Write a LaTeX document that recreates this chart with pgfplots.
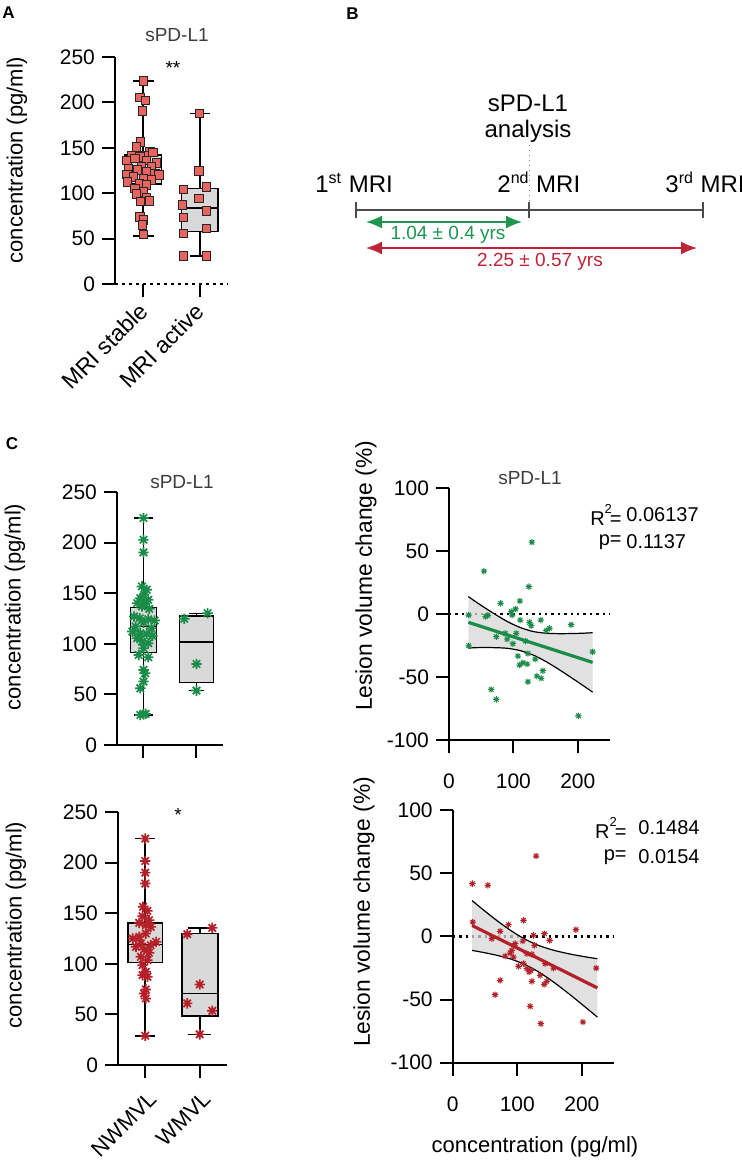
\documentclass[border=0pt]{standalone}
\usepackage{fontspec}
\setmainfont{Liberation Sans}
\usepackage{pgfplots}
\pgfplotsset{compat=1.18}
\usetikzlibrary{arrows.meta}

\definecolor{sqfill}{RGB}{232,100,95}
\definecolor{mygreen}{RGB}{26,140,72}
\definecolor{myred}{RGB}{180,32,40}
\definecolor{boxgray}{RGB}{217,217,217}
\definecolor{bandgray}{RGB}{215,215,215}
\definecolor{titlegray}{RGB}{60,60,60}
\definecolor{linegray}{RGB}{75,75,75}
\definecolor{arrgreen}{RGB}{30,150,80}
\definecolor{arrred}{RGB}{190,35,55}

\newcommand\tickfont{\fontsize{10.5}{12}\selectfont}
\newcommand\labfont{\fontsize{11}{13}\selectfont}
\newcommand\lesfont{\fontsize{11.4}{13}\selectfont}
\newcommand\xlabfont{\fontsize{11.5}{13}\selectfont}
\newcommand\titfont{\fontsize{9.5}{11}\selectfont}
\newcommand\bfont{\fontsize{12}{14}\selectfont}
\newcommand\statfont{\fontsize{10}{12}\selectfont}
\newcommand\letfont{\fontsize{8.5}{10}\selectfont\bfseries}

\pgfdeclareplotmark{star8}{%
  \pgfpathmoveto{\pgfqpoint{0pt}{\pgfplotmarksize}}\pgfpathlineto{\pgfqpoint{0pt}{-\pgfplotmarksize}}%
  \pgfpathmoveto{\pgfqpoint{\pgfplotmarksize}{0pt}}\pgfpathlineto{\pgfqpoint{-\pgfplotmarksize}{0pt}}%
  \pgfpathmoveto{\pgfqpoint{0.707\pgfplotmarksize}{0.707\pgfplotmarksize}}\pgfpathlineto{\pgfqpoint{-0.707\pgfplotmarksize}{-0.707\pgfplotmarksize}}%
  \pgfpathmoveto{\pgfqpoint{0.707\pgfplotmarksize}{-0.707\pgfplotmarksize}}\pgfpathlineto{\pgfqpoint{-0.707\pgfplotmarksize}{0.707\pgfplotmarksize}}%
  \pgfusepathqstroke}

\pgfplotsset{
  myax/.style={scale only axis, axis lines=left, axis line style={-, line width=1pt},
    tick style={line width=1pt, black}, tick align=outside, major tick length=6.5pt,
    ticklabel style={font=\tickfont}, clip=false, anchor=south west},
  boxax/.style={myax, xmin=-0.5, xmax=1.5, ymin=0, ymax=250,
    ytick={0,50,100,150,200,250}, yticklabels={0,50,100,150,200,250}, xtick={0,1}},
  scatax/.style={myax, xmin=0, xmax=250, ymin=-100, ymax=100,
    xtick={0,100,200}, xticklabels={0,100,200},
    ytick={-100,-50,0,50,100}, yticklabels={-100,-50,0,50,100},
    xticklabel style={yshift=-7pt}},
  bxl/.style={black, line width=0.8pt, line join=miter},
  bxf/.style={draw=black, fill=boxgray, line width=0.8pt, line join=miter},
}

\begin{document}
\begin{tikzpicture}
\useasboundingbox (0,0) rectangle (371pt,-582pt);

% ---------------- Panel A ----------------
\node[font=\letfont] at (4.25pt,-6.5pt) {A};
\begin{axis}[boxax, at={(57.5pt,-142pt)}, width=56.5pt, height=113.5pt,
  x axis line style={line width=1.3pt, dash pattern=on 1.3pt off 2.2pt},
  xticklabels={MRI stable, MRI active},
  xticklabel style={rotate=45, anchor=north east, font=\xlabfont, yshift=4pt}]
% MRI stable box
\addplot[bxl] coordinates {(0,142) (0,223.6)};
\addplot[bxl] coordinates {(-0.19,223.6) (0.19,223.6)};
\addplot[bxl] coordinates {(0,110) (0,53)};
\addplot[bxl] coordinates {(-0.19,53) (0.19,53)};
\addplot[bxf] coordinates {(-0.32,110) (0.32,110) (0.32,142) (-0.32,142) (-0.32,110)} -- cycle;
\addplot[bxl] coordinates {(-0.32,124) (0.32,124)};
% MRI active box
\addplot[bxl] coordinates {(1,105) (1,187.7)};
\addplot[bxl] coordinates {(0.825,187.7) (1.175,187.7)};
\addplot[bxl] coordinates {(1,58) (1,30.8)};
\addplot[bxl] coordinates {(0.825,30.8) (1.175,30.8)};
\addplot[bxf] coordinates {(0.68,58) (1.32,58) (1.32,105) (0.68,105) (0.68,58)} -- cycle;
\addplot[bxl] coordinates {(0.68,83.5) (1.32,83.5)};
\addplot[only marks, mark=square*, mark size=2.1pt, mark options={fill=sqfill, draw=black!85, line width=0.45pt}] coordinates {
(0,223.6) (-0.058,205.3) (0.041,202.4) (-0.012,190.6) (-0.047,156.5) (-0.117,151) (0.117,145.5)
(-0.205,141.9) (0.029,141.9) (0.175,144.8) (-0.058,140) (-0.292,136.4) (-0.146,138.2) (0.058,136.4)
(0.234,133.4) (0.146,129.8) (-0.029,129) (-0.263,127.2) (-0.105,125.4) (0.058,123.5) (-0.292,120.6)
(0.205,121.7) (0.281,119.9) (-0.175,118) (0,116.2) (0.146,114.4) (-0.275,112.5) (-0.070,110.7)
(0.058,108.9) (-0.146,105.2) (0,101.6) (-0.117,99) (0.058,95.3) (-0.047,90.6) (0.105,91.3)
(-0.058,74) (0,70.4) (-0.012,64.9) (0,54.6)
(1,187.7) (0.988,124.6) (1.117,107) (0.708,104) (0.988,94.2) (0.696,86.9) (1.117,80.3)
(0.708,73.3) (1.117,61.2) (0.708,55.7) (0.708,30.8) (1.117,30.8)};
\end{axis}
\node[font=\titfont, text=titlegray] at (88.5pt,-17.5pt) {sPD-L1};
\node[font=\titfont] at (86.5pt,-34pt) {**};
\node[font=\labfont, rotate=90] at (8.5pt,-80pt) {concentration (pg/ml)};

% ---------------- Panel B ----------------
\node[font=\letfont] at (176.25pt,-7pt) {B};
\draw[linegray, line width=1pt] (178pt,-105pt) -- (351.5pt,-105pt);
\foreach \xx in {178,264.5,351.5} {\draw[linegray, line width=1.1pt] (\xx pt,-101pt) -- (\xx pt,-109pt);}
\draw[gray, dotted, line width=0.5pt] (264.5pt,-72.5pt) -- (264.5pt,-101pt);
\node[font=\bfont, align=center] at (264pt,-59.5pt) {sPD-L1\\[-1pt]analysis};
\node[font=\bfont, anchor=base west, inner sep=0pt] at (157.5pt,-96pt) {1\textsuperscript{st} MRI};
\node[font=\bfont, anchor=base west, inner sep=0pt] at (248.5pt,-96pt) {2\textsuperscript{nd} MRI};
\node[font=\bfont, anchor=base west, inner sep=0pt] at (332.5pt,-96pt) {3\textsuperscript{rd} MRI};
\draw[arrgreen, line width=0.8pt, {Latex[length=8pt,width=6.5pt]}-{Latex[length=8pt,width=6.5pt]}] (183pt,-111pt) -- (261pt,-111pt);
\draw[arrred, line width=0.8pt, {Latex[length=8pt,width=6.5pt]}-{Latex[length=8pt,width=6.5pt]}] (183pt,-124pt) -- (348.5pt,-124pt);
\node[font=\titfont, text=arrgreen] at (224pt,-117.5pt) {1.04 ± 0.4 yrs};
\node[font=\titfont, text=arrred] at (270pt,-131pt) {2.25 ± 0.57 yrs};

% ---------------- Panel C ----------------
\node[font=\letfont] at (6pt,-222pt) {C};

% C top-left
\begin{axis}[boxax, at={(58.5pt,-372.5pt)}, width=53pt, height=126.5pt, xticklabels={,}]
\addplot[bxl] coordinates {(0,135.9) (0,224.3)};
\addplot[bxl] coordinates {(-0.18,224.3) (0.18,224.3)};
\addplot[bxl] coordinates {(0,91.4) (0,29.7)};
\addplot[bxl] coordinates {(-0.18,29.7) (0.18,29.7)};
\addplot[bxf] coordinates {(-0.245,91.4) (0.245,91.4) (0.245,135.9) (-0.245,135.9) (-0.245,91.4)} -- cycle;
\addplot[bxl] coordinates {(-0.245,117) (0.245,117)};
\addplot[bxl] coordinates {(1,127.5) (1,130)};
\addplot[bxl] coordinates {(0.85,130) (1.15,130)};
\addplot[bxl] coordinates {(1,61.7) (1,53.8)};
\addplot[bxl] coordinates {(0.85,53.8) (1.15,53.8)};
\addplot[bxf] coordinates {(0.68,61.7) (1.32,61.7) (1.32,127.5) (0.68,127.5) (0.68,61.7)} -- cycle;
\addplot[bxl] coordinates {(0.68,102) (1.32,102)};
\addplot[only marks, mark=star8, mark size=2.6pt, mygreen, line width=0.85pt] coordinates {
(0,224.3) (0,202.8) (0,190.3) (-0.03,156.7) (0.06,153.4) (0.01,148.4) (-0.06,145.1) (0.09,143.5)
(-0.12,140.2) (0.03,139.5) (-0.03,136.9) (0.11,134.6) (-0.18,127) (-0.07,125.3) (0.09,124.3)
(0.21,123) (0,121) (-0.15,117.1) (0.15,115.4) (-0.21,112.1) (-0.06,110.5) (0.06,109.8)
(-0.12,105.5) (0.17,107.8) (-0.03,102.2) (0.09,100.6) (0,95.6) (-0.09,89) (0.09,86.7)
(0,74.2) (0.03,70.9) (0,62.7) (-0.06,56.1) (0,30.3) (-0.06,29.7) (0.04,30.7)
(0.77,124.7) (1.21,130.3) (1.0,80.1) (1.0,53.8)};
\end{axis}
\node[font=\titfont, text=titlegray] at (91pt,-241pt) {sPD-L1};
\node[font=\labfont, rotate=90] at (7.5pt,-303.5pt) {concentration (pg/ml)};

% C top-right
\begin{axis}[scatax, at={(224.5pt,-370pt)}, width=80.5pt, height=126pt]
\addplot[black, line width=1.2pt, dash pattern=on 1.2pt off 2pt] coordinates {(0,0) (250,0)};
\addplot[fill=bandgray, draw=none, fill opacity=0.75] coordinates {
(30,13.8) (50,6.8) (70,0.3) (90,-5.8) (110,-10.6) (130,-13.8) (150,-15.2) (170,-15.6) (190,-15.5) (210,-15.2) (223,-14.8)
(223,-62.0) (210,-57.4) (190,-50.5) (170,-43.8) (150,-37.6) (130,-32.4) (110,-29.0) (90,-27.2) (70,-26.7) (50,-26.6) (30,-27.0)} -- cycle;
\addplot[only marks, mark=star8, mark size=1.6pt, mygreen, line width=0.5pt] coordinates {
(128.7,57) (54.3,34) (124,21.7) (80,8.5) (110,10.3) (96.6,1.9) (103.4,4) (98,-0.8) (30.5,-0.8)
(56.8,-2) (60.5,-1) (110.6,-4.8) (142.6,-4.8) (125,-6.6) (127.6,-9.3) (189.7,-8.5) (156,-11.4)
(150.9,-13.2) (73.4,-18) (87.3,-15.4) (104.4,-15.4) (90.4,-20) (99.2,-23.6) (118.9,-21.5)
(30.5,-25.2) (223,-30) (107,-33.4) (122.5,-31.3) (133.9,-35.8) (114.7,-38.7) (109.6,-40.5)
(121.4,-39.7) (145.7,-45) (136.4,-49.3) (143.2,-51) (122.5,-53.8) (65.6,-59.9) (73.4,-67.8) (201,-80.8)};
\addplot[black, line width=0.6pt, smooth] coordinates {
(30,13.8) (50,6.8) (70,0.3) (90,-5.8) (110,-10.6) (130,-13.8) (150,-15.2) (170,-15.6) (190,-15.5) (210,-15.2) (223,-14.8)};
\addplot[black, line width=0.6pt, smooth] coordinates {
(30,-27.0) (50,-26.6) (70,-26.7) (90,-27.2) (110,-29.0) (130,-32.4) (150,-37.6) (170,-43.8) (190,-50.5) (210,-57.4) (223,-62.0)};
\addplot[mygreen, line width=1.6pt] coordinates {(30,-6.6) (223,-38.4)};
\end{axis}
\node[font=\titfont, text=titlegray] at (265pt,-239pt) {sPD-L1};
\node[font=\lesfont, rotate=90] at (183pt,-288pt) {Lesion volume change (\%)};
\node[font=\statfont, anchor=east, inner sep=0pt] at (311pt,-257.5pt) {R\raisebox{1.2ex}{\fontsize{6.5}{7}\selectfont 2}\kern-0.1em=};
\node[font=\statfont, anchor=west, inner sep=0pt] at (313pt,-257.5pt) {0.06137};
\node[font=\statfont, anchor=east, inner sep=0pt] at (311pt,-271pt) {p=};
\node[font=\statfont, anchor=west, inner sep=0pt] at (313pt,-271pt) {0.1137};

% C bottom-left
\begin{axis}[boxax, at={(59pt,-532.5pt)}, width=54.5pt, height=126.5pt,
  xticklabels={NWMVL, WMVL},
  xticklabel style={rotate=45, anchor=north east, font=\labfont, yshift=-1.5pt}]
\addplot[bxl] coordinates {(0,140.5) (0,223.7)};
\addplot[bxl] coordinates {(-0.185,223.7) (0.185,223.7)};
\addplot[bxl] coordinates {(0,101.3) (0,28.9)};
\addplot[bxl] coordinates {(-0.185,28.9) (0.185,28.9)};
\addplot[bxf] coordinates {(-0.32,101.3) (0.32,101.3) (0.32,140.5) (-0.32,140.5) (-0.32,101.3)} -- cycle;
\addplot[bxl] coordinates {(-0.32,119) (0.32,119)};
\addplot[bxl] coordinates {(1,130) (1,135.5)};
\addplot[bxl] coordinates {(0.785,135.5) (1.215,135.5)};
\addplot[bxl] coordinates {(1,48.4) (1,30.3)};
\addplot[bxl] coordinates {(0.785,30.3) (1.215,30.3)};
\addplot[bxf] coordinates {(0.67,48.4) (1.33,48.4) (1.33,130) (0.67,130) (0.67,48.4)} -- cycle;
\addplot[bxl] coordinates {(0.67,70.7) (1.33,70.7)};
\addplot[only marks, mark=star8, mark size=2.6pt, myred, line width=0.85pt] coordinates {
(0,223.7) (0,201.6) (0,190.1) (0,179.3) (-0.04,156.3) (0.04,152.3) (-0.05,147) (0.07,143.1)
(-0.11,140.5) (0.01,138.2) (0.10,136.5) (0.01,129.9) (-0.11,126.6) (-0.23,125) (0.20,121.7)
(-0.08,120.1) (0.10,118.4) (-0.17,116.8) (-0.02,114.1) (0.07,110.9) (-0.08,106.9) (0.04,103.6)
(-0.05,98.7) (0.01,92.1) (-0.05,88.8) (0.04,87.2) (0.01,74.7) (-0.02,70.7) (0.01,65.8) (0,28.9)
(1.23,135.5) (0.77,129.3) (1.0,79.6) (0.77,60.9) (1.23,53.6) (1.0,30.3)};
\end{axis}
\node[font=\titfont] at (89pt,-407.5pt) {*};
\node[font=\labfont, rotate=90] at (8pt,-462.5pt) {concentration (pg/ml)};

% C bottom-right
\begin{axis}[scatax, at={(226.35pt,-531.35pt)}, width=80.75pt, height=126.35pt]
\addplot[black, line width=1.2pt, dash pattern=on 1.2pt off 2pt] coordinates {(0,0) (250,0)};
\addplot[fill=bandgray, draw=none, fill opacity=0.75] coordinates {
(30,28.3) (50,19.9) (70,11.9) (90,4.6) (110,-1.7) (130,-6.6) (150,-10.1) (170,-12.7) (190,-14.8) (210,-16.6) (224,-17.7)
(224,-63.9) (210,-58.0) (190,-49.6) (170,-41.5) (150,-33.9) (130,-27.2) (110,-21.9) (90,-18.0) (70,-15.2) (50,-13.0) (30,-11.1)} -- cycle;
\addplot[only marks, mark=star8, mark size=1.6pt, myred, line width=0.5pt] coordinates {
(129.2,63.6) (30.5,41.7) (54.3,40.4) (109.6,12.7) (31,11.3) (86.3,9.2) (190.7,5.3) (73.4,4)
(125,0.8) (142,2.1) (60.5,-1.8) (150,-3.2) (108.5,-3.7) (96.6,-5.8) (126.6,-7.1) (91.5,-11.1)
(88.9,-13.2) (114.7,-13.7) (81.1,-15.6) (122.5,-14.2) (94,-16.4) (143.2,-21.6) (109.6,-21.6)
(101.8,-23.7) (114.7,-25.6) (156,-25.1) (222.2,-25.1) (120.9,-26.9) (118.3,-28.2) (135.4,-30.9)
(73.4,-34.8) (122.5,-35.6) (145.7,-35.6) (141.6,-38) (65.6,-46.2) (119.9,-55.4) (136.4,-69.1) (201.6,-67.8)};
\addplot[black, line width=0.6pt, smooth] coordinates {
(30,28.3) (50,19.9) (70,11.9) (90,4.6) (110,-1.7) (130,-6.6) (150,-10.1) (170,-12.7) (190,-14.8) (210,-16.6) (224,-17.7)};
\addplot[black, line width=0.6pt, smooth] coordinates {
(30,-11.1) (50,-13.0) (70,-15.2) (90,-18.0) (110,-21.9) (130,-27.2) (150,-33.9) (170,-41.5) (190,-49.6) (210,-58.0) (224,-63.9)};
\addplot[myred, line width=1.6pt] coordinates {(30,8.6) (224,-40.8)};
\end{axis}
\node[font=\lesfont, rotate=90] at (182pt,-456pt) {Lesion volume change (\%)};
\node[font=\statfont, anchor=east, inner sep=0pt] at (313.5pt,-414pt) {R\raisebox{1.2ex}{\fontsize{6.5}{7}\selectfont 2}\kern-0.1em=};
\node[font=\statfont, anchor=west, inner sep=0pt] at (319pt,-414pt) {0.1484};
\node[font=\statfont, anchor=east, inner sep=0pt] at (313.5pt,-428.5pt) {p=};
\node[font=\statfont, anchor=west, inner sep=0pt] at (319pt,-428.5pt) {0.0154};
\node[font=\labfont] at (267.5pt,-573.5pt) {concentration (pg/ml)};
\end{tikzpicture}
\end{document}
